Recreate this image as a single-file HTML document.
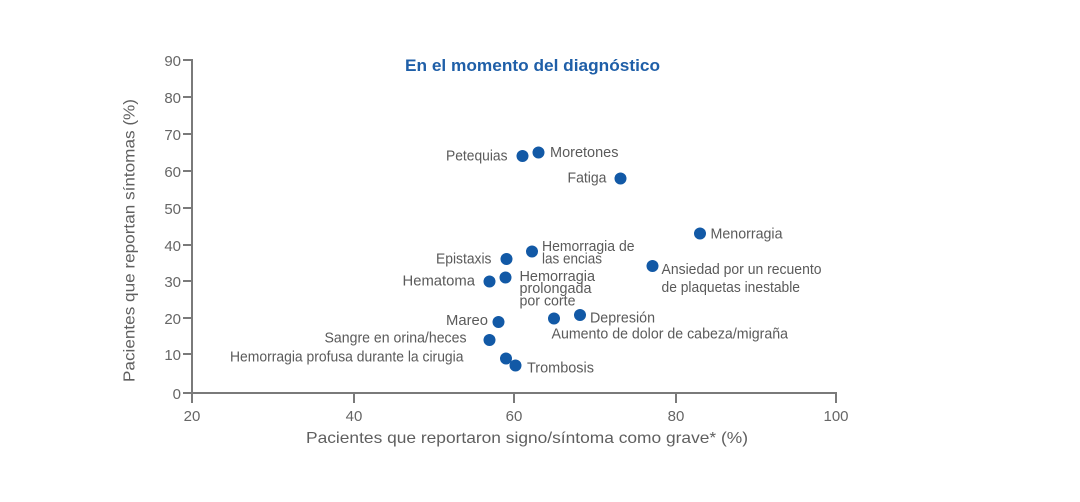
<!DOCTYPE html>
<html>
<head>
<meta charset="utf-8">
<style>
html,body{margin:0;padding:0;background:#ffffff;}
svg{display:block;}
text{font-family:"Liberation Sans",Arial,sans-serif;}
.lbl{font-size:15px;fill:#5a5a5a;}
.tick{font-size:15px;fill:#666666;}
.ax{font-size:16px;fill:#5f5f5f;}
</style>
</head>
<body>
<svg width="1080" height="502" viewBox="0 0 1080 502" xmlns="http://www.w3.org/2000/svg">
<rect width="1080" height="502" fill="#ffffff"/>

<!-- title -->
<text x="405" y="71" font-size="16.5" font-weight="bold" fill="#1f5fa8" textLength="255" lengthAdjust="spacingAndGlyphs">En el momento del diagnóstico</text>

<!-- axes -->
<g stroke="#7a7a7a" stroke-width="2" fill="none">
<line x1="192" y1="59" x2="192" y2="403"/>
<line x1="191" y1="393" x2="837" y2="393"/>
<!-- y ticks -->
<line x1="183" y1="60" x2="192" y2="60"/>
<line x1="183" y1="97" x2="192" y2="97"/>
<line x1="183" y1="134" x2="192" y2="134"/>
<line x1="183" y1="171" x2="192" y2="171"/>
<line x1="183" y1="208" x2="192" y2="208"/>
<line x1="183" y1="245" x2="192" y2="245"/>
<line x1="183" y1="281" x2="192" y2="281"/>
<line x1="183" y1="318" x2="192" y2="318"/>
<line x1="183" y1="354" x2="192" y2="354"/>
<line x1="183" y1="393" x2="192" y2="393"/>
<!-- x ticks -->
<line x1="354" y1="393" x2="354" y2="403"/>
<line x1="514" y1="393" x2="514" y2="403"/>
<line x1="676" y1="393" x2="676" y2="403"/>
<line x1="836" y1="392" x2="836" y2="403"/>
</g>

<!-- y tick labels -->
<g class="tick" text-anchor="end">
<text x="181" y="66">90</text>
<text x="181" y="103">80</text>
<text x="181" y="140">70</text>
<text x="181" y="177">60</text>
<text x="181" y="214">50</text>
<text x="181" y="251">40</text>
<text x="181" y="287">30</text>
<text x="181" y="324">20</text>
<text x="181" y="360">10</text>
<text x="181" y="399">0</text>
</g>

<!-- x tick labels -->
<g class="tick" text-anchor="middle">
<text x="192" y="421">20</text>
<text x="354" y="421">40</text>
<text x="514" y="421">60</text>
<text x="676" y="421">80</text>
<text x="836" y="421">100</text>
</g>

<!-- axis titles -->
<text class="ax" x="306" y="443" textLength="442" lengthAdjust="spacingAndGlyphs">Pacientes que reportaron signo/síntoma como grave* (%)</text>
<text class="ax" transform="translate(134.5,382) rotate(-90)" x="0" y="0" textLength="283" lengthAdjust="spacingAndGlyphs">Pacientes que reportan síntomas (%)</text>

<!-- dots -->
<g fill="#1259a6">
<circle cx="522.5" cy="156" r="6"/>
<circle cx="538.5" cy="152.5" r="6"/>
<circle cx="620.5" cy="178.5" r="6"/>
<circle cx="506.5" cy="259" r="6"/>
<circle cx="532" cy="251.5" r="6"/>
<circle cx="489.5" cy="281.5" r="6"/>
<circle cx="505.5" cy="277.5" r="6"/>
<circle cx="700" cy="233.5" r="6"/>
<circle cx="652.5" cy="266" r="6"/>
<circle cx="580" cy="315" r="6"/>
<circle cx="554" cy="318.5" r="6"/>
<circle cx="498.5" cy="322" r="6"/>
<circle cx="489.5" cy="340" r="6"/>
<circle cx="506" cy="358.5" r="6"/>
<circle cx="515.5" cy="365.5" r="6"/>
</g>

<!-- point labels -->
<g class="lbl">
<text x="446" y="160.5" textLength="61.5" lengthAdjust="spacingAndGlyphs">Petequias</text>
<text x="550" y="157" textLength="68.5" lengthAdjust="spacingAndGlyphs">Moretones</text>
<text x="567.5" y="182.5" textLength="39" lengthAdjust="spacingAndGlyphs">Fatiga</text>
<text x="436" y="263.5" textLength="55.5" lengthAdjust="spacingAndGlyphs">Epistaxis</text>
<text x="542" y="251" textLength="92.5" lengthAdjust="spacingAndGlyphs">Hemorragia de</text>
<text x="542" y="263.5" textLength="60" lengthAdjust="spacingAndGlyphs">las encias</text>
<text x="402.5" y="285.5" textLength="72.5" lengthAdjust="spacingAndGlyphs">Hematoma</text>
<text x="519.5" y="281" textLength="75.5" lengthAdjust="spacingAndGlyphs">Hemorragia</text>
<text x="519.5" y="293" textLength="72" lengthAdjust="spacingAndGlyphs">prolongada</text>
<text x="519.5" y="305.5" textLength="56" lengthAdjust="spacingAndGlyphs">por corte</text>
<text x="710.5" y="238.5" textLength="72" lengthAdjust="spacingAndGlyphs">Menorragia</text>
<text x="661.5" y="274" textLength="160" lengthAdjust="spacingAndGlyphs">Ansiedad por un recuento</text>
<text x="661.5" y="292" textLength="138.5" lengthAdjust="spacingAndGlyphs">de plaquetas inestable</text>
<text x="590" y="322.5" textLength="65" lengthAdjust="spacingAndGlyphs">Depresión</text>
<text x="551.5" y="338.5" textLength="236.5" lengthAdjust="spacingAndGlyphs">Aumento de dolor de cabeza/migraña</text>
<text x="446" y="325" textLength="42" lengthAdjust="spacingAndGlyphs">Mareo</text>
<text x="324.5" y="342.5" textLength="142" lengthAdjust="spacingAndGlyphs">Sangre en orina/heces</text>
<text x="230" y="361.5" textLength="233.5" lengthAdjust="spacingAndGlyphs">Hemorragia profusa durante la cirugia</text>
<text x="527" y="372.5" textLength="67" lengthAdjust="spacingAndGlyphs">Trombosis</text>
</g>
</svg>
</body>
</html>
